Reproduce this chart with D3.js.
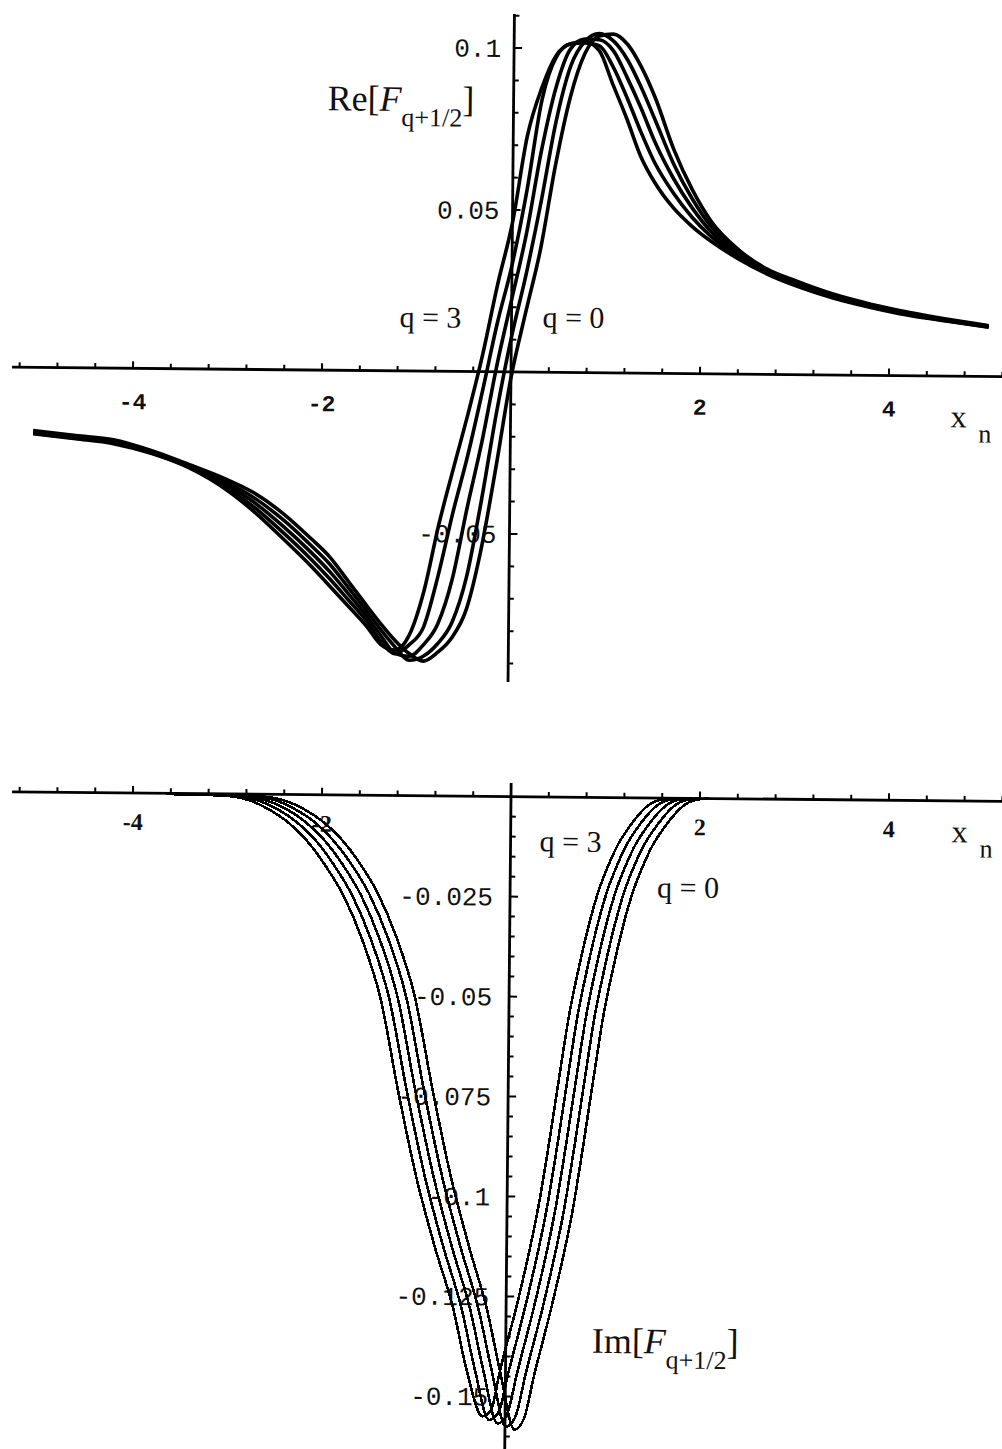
<!DOCTYPE html>
<html>
<head>
<meta charset="utf-8">
<script src="https://cdn.jsdelivr.net/npm/d3@7"></script>
<style>
  html, body { margin: 0; padding: 0; background: #fff; }
  svg { display: block; }
</style>
</head>
<body>
<svg id="chart" width="1002" height="1449"></svg>
<script>
// ---------- data ----------
// Real part: common abscissa grid, one array per curve (q = 0 ... q = 3)
const reX = [-5.05,-4.6,-4.2,-3.8,-3.4,-3.0,-2.7,-2.4,-2.1,-1.9,-1.7,-1.5,-1.35,-1.2,-1.05,-0.9,-0.75,-0.6,-0.45,-0.3,-0.15,0,0.15,0.3,0.45,0.6,0.75,0.9,1.05,1.2,1.35,1.5,1.7,1.9,2.1,2.4,2.7,3.0,3.4,3.8,4.2,4.6,5.05];
const reCurve0 = [-0.0195,-0.0209,-0.0221,-0.0253,-0.0295,-0.0340,-0.0382,-0.0443,-0.0520,-0.0576,-0.0651,-0.0727,-0.0782,-0.0832,-0.0872,-0.0895,-0.0868,-0.0822,-0.0735,-0.0550,-0.0295,-0.0018,0.0185,0.0380,0.0640,0.0850,0.0985,0.1040,0.1046,0.1015,0.0945,0.0850,0.0692,0.0568,0.0472,0.0383,0.0325,0.0290,0.0250,0.0220,0.0196,0.0176,0.0157];
const reCurve1 = [-0.0198,-0.0212,-0.0224,-0.0255,-0.0298,-0.0348,-0.0397,-0.0462,-0.0541,-0.0598,-0.0670,-0.0743,-0.0800,-0.0852,-0.0893,-0.0880,-0.0841,-0.0775,-0.0634,-0.0397,-0.0127,0.0106,0.0302,0.0524,0.0772,0.0945,0.1023,0.1047,0.1025,0.0968,0.0882,0.0782,0.0647,0.0540,0.0456,0.0376,0.0321,0.0286,0.0247,0.0217,0.0194,0.0174,0.0156];
const reCurve2 = [-0.0200,-0.0214,-0.0227,-0.0258,-0.0300,-0.0356,-0.0411,-0.0482,-0.0562,-0.0621,-0.0689,-0.0759,-0.0818,-0.0872,-0.0881,-0.0845,-0.0780,-0.0640,-0.0420,-0.0215,0.0020,0.0224,0.0428,0.0684,0.0882,0.1000,0.1030,0.1028,0.0995,0.0912,0.0818,0.0714,0.0602,0.0512,0.0440,0.0369,0.0317,0.0282,0.0244,0.0215,0.0192,0.0173,0.0155];
const reCurve3 = [-0.0203,-0.0217,-0.0230,-0.0260,-0.0303,-0.0364,-0.0426,-0.0501,-0.0583,-0.0643,-0.0708,-0.0774,-0.0835,-0.0873,-0.0845,-0.0790,-0.0630,-0.0435,-0.0260,-0.0060,0.0150,0.0330,0.0560,0.0840,0.0975,0.1015,0.1018,0.1010,0.0945,0.0850,0.0745,0.0650,0.0557,0.0483,0.0425,0.0362,0.0313,0.0279,0.0241,0.0212,0.0189,0.0171,0.0153];
const reCurve4 = [-0.0205,-0.0219,-0.0233,-0.0262,-0.0305,-0.0372,-0.0440,-0.0520,-0.0604,-0.0665,-0.0727,-0.0790,-0.0845,-0.0862,-0.0815,-0.0680,-0.0475,-0.0300,-0.0130,0.0055,0.0270,0.0460,0.0730,0.0880,0.0980,0.1015,0.1022,0.0995,0.0890,0.0785,0.0670,0.0590,0.0512,0.0455,0.0410,0.0355,0.0310,0.0275,0.0238,0.0210,0.0187,0.0170,0.0152];

// Imaginary part: [x, value] pairs per curve (q = 0 ... q = 3)
const imCurve0 = [[-3.6,-0.0002],[-2.9,-0.0003],[-2.6,-0.0006],[-2.4,-0.0015],[-2.2,-0.0035],[-2.0,-0.0065],[-1.8,-0.0108],[-1.6,-0.0168],[-1.4,-0.0245],[-1.2,-0.0353],[-1.0,-0.0500],[-0.8,-0.0735],[-0.6,-0.0950],[-0.4,-0.1125],[-0.2,-0.1285],[-0.05,-0.1445],[0.1,-0.1583],[0.2,-0.1555],[0.3,-0.1450],[0.5,-0.1255],[0.7,-0.1025],[0.8,-0.0870],[0.9,-0.0705],[1.0,-0.0545],[1.1,-0.0425],[1.2,-0.0320],[1.3,-0.0235],[1.4,-0.0172],[1.5,-0.0120],[1.6,-0.0082],[1.7,-0.0050],[1.8,-0.0024],[1.95,-0.0004],[2.1,0]];
const imCurve1 = [[-3.6,-0.0002],[-2.99,-0.0003],[-2.69,-0.0006],[-2.49,-0.0015],[-2.29,-0.0036],[-2.09,-0.0066],[-1.89,-0.0110],[-1.69,-0.0170],[-1.49,-0.0247],[-1.29,-0.0355],[-1.09,-0.0502],[-0.89,-0.0738],[-0.69,-0.0952],[-0.49,-0.1126],[-0.29,-0.1284],[-0.14,-0.1442],[0.01,-0.1576],[0.11,-0.1550],[0.21,-0.1447],[0.41,-0.1253],[0.61,-0.1022],[0.71,-0.0868],[0.81,-0.0703],[0.91,-0.0544],[1.01,-0.0424],[1.11,-0.0319],[1.21,-0.0234],[1.31,-0.0171],[1.41,-0.0119],[1.51,-0.0081],[1.61,-0.0049],[1.71,-0.0023],[1.86,-0.0004],[2.01,0]];
const imCurve2 = [[-3.6,-0.0002],[-3.08,-0.0003],[-2.78,-0.0006],[-2.58,-0.0016],[-2.38,-0.0036],[-2.18,-0.0067],[-1.98,-0.0111],[-1.78,-0.0172],[-1.58,-0.0249],[-1.38,-0.0357],[-1.18,-0.0504],[-0.98,-0.0740],[-0.78,-0.0953],[-0.58,-0.1127],[-0.38,-0.1283],[-0.23,-0.1440],[-0.08,-0.1568],[0.02,-0.1545],[0.12,-0.1444],[0.32,-0.1250],[0.52,-0.1019],[0.62,-0.0866],[0.72,-0.0701],[0.82,-0.0543],[0.92,-0.0423],[1.02,-0.0318],[1.12,-0.0233],[1.22,-0.0170],[1.32,-0.0118],[1.42,-0.0080],[1.52,-0.0048],[1.62,-0.0023],[1.77,-0.0004],[1.92,0]];
const imCurve3 = [[-3.6,-0.0002],[-3.17,-0.0003],[-2.87,-0.0006],[-2.67,-0.0016],[-2.47,-0.0037],[-2.27,-0.0068],[-2.07,-0.0112],[-1.87,-0.0174],[-1.67,-0.0251],[-1.47,-0.0359],[-1.27,-0.0506],[-1.07,-0.0742],[-0.87,-0.0955],[-0.67,-0.1128],[-0.47,-0.1282],[-0.32,-0.1438],[-0.17,-0.1559],[-0.07,-0.1540],[0.03,-0.1441],[0.23,-0.1247],[0.43,-0.1016],[0.53,-0.0864],[0.63,-0.0700],[0.73,-0.0542],[0.83,-0.0422],[0.93,-0.0317],[1.03,-0.0232],[1.13,-0.0169],[1.23,-0.0117],[1.33,-0.0079],[1.43,-0.0047],[1.53,-0.0022],[1.68,-0.0004],[1.83,0]];
const imCurve4 = [[-3.65,-0.0002],[-3.26,-0.0003],[-2.96,-0.0006],[-2.76,-0.0016],[-2.56,-0.0038],[-2.36,-0.0069],[-2.16,-0.0114],[-1.96,-0.0176],[-1.76,-0.0253],[-1.56,-0.0361],[-1.36,-0.0508],[-1.16,-0.0744],[-0.96,-0.0957],[-0.76,-0.1128],[-0.56,-0.1281],[-0.41,-0.1436],[-0.24,-0.1550],[-0.15,-0.1535],[-0.06,-0.1438],[0.14,-0.1244],[0.34,-0.1013],[0.44,-0.0862],[0.54,-0.0698],[0.64,-0.0541],[0.74,-0.0421],[0.84,-0.0316],[0.94,-0.0231],[1.04,-0.0168],[1.14,-0.0116],[1.24,-0.0078],[1.34,-0.0046],[1.44,-0.0021],[1.59,-0.0004],[1.74,0]];

// Tick labels
const xTickLabels = [-4, -2, 2, 4];
const reYTickLabels = [0.1, 0.05, -0.05];
const imYTickLabels = [-0.025, -0.05, -0.075, -0.1, -0.125, -0.15];

// ---------- layout ----------
const svg = d3.select("#chart");
svg.append("rect").attr("width", 1002).attr("height", 1449).attr("fill", "#fff");

const TILT = 0.55;               // the printed page sits slightly rotated
const MONO = "'Liberation Mono', 'DejaVu Sans Mono', monospace";
const SERIF = "'Liberation Serif', 'DejaVu Serif', serif";

const xScale = d3.scaleLinear().domain([-5, 5]).range([511 - 5 * 94.5, 511 + 5 * 94.5]);
const xAxisExtent = [-5.28, 5.4];
const xMinorTicks = d3.range(-13, 14).map(i => +(i * 0.4).toFixed(2)).filter(t => t !== 0);

const yRe = d3.scaleLinear().domain([-0.0957, 0.1105]).range([682, 14]);
const yIm = d3.scaleLinear().domain([-0.1632, 0.0034]).range([1449.3, 783]);

const reTicks = d3.range(-9, 12).map(i => +(i * 0.01).toFixed(3)).filter(t => t !== 0);
const imTicks = d3.range(-32, 0).map(i => +(i * 0.005).toFixed(4));

function drawPanel(p) {
  const y = p.y;
  const y0 = y(0), xz = xScale(0);
  const g = svg.append("g").attr("transform", `rotate(${TILT} ${p.ox} ${p.oy})`);

  // tick labels (drawn first so the curves pass over them)
  g.selectAll(null).data(xTickLabels).join("text")
    .attr("x", d => xScale(d))
    .attr("y", y0 + p.xLabelDy)
    .attr("text-anchor", "middle")
    .attr("font-family", p.xLabelFont)
    .attr("font-weight", "bold")
    .attr("font-size", p.xLabelSize)
    .attr("fill", "#111")
    .text(d => String(d));

  g.selectAll(null).data(p.yLabels).join("text")
    .attr("x", xz - p.yLabelGap)
    .attr("y", d => y(d))
    .attr("dy", "0.35em")
    .attr("text-anchor", "end")
    .attr("font-family", MONO)
    .attr("font-size", 26)
    .attr("fill", "#111")
    .text(d => String(d));

  // axes
  g.append("line")
    .attr("x1", xScale(xAxisExtent[0])).attr("x2", xScale(xAxisExtent[1]))
    .attr("y1", y0).attr("y2", y0)
    .attr("stroke", "#000").attr("stroke-width", 2.8);
  g.append("line")
    .attr("x1", xz).attr("x2", xz)
    .attr("y1", y(p.yExtent[1])).attr("y2", y(p.yExtent[0]))
    .attr("stroke", "#000").attr("stroke-width", 2.8);

  // x ticks point up, longer at the labelled values
  g.selectAll(null).data(xMinorTicks).join("line")
    .attr("x1", d => xScale(d)).attr("x2", d => xScale(d))
    .attr("y1", y0).attr("y2", d => y0 - (Math.abs(d % 2) < 1e-6 ? 7 : 5))
    .attr("stroke", "#000").attr("stroke-width", 2);

  // y ticks point right
  g.selectAll(null).data(p.yTicks).join("line")
    .attr("x1", xz).attr("x2", d => xz + (p.isMajor(d) ? 8 : 5))
    .attr("y1", d => y(d)).attr("y2", d => y(d))
    .attr("stroke", "#000").attr("stroke-width", 2);

  // curves
  const line = d3.line()
    .x(d => xScale(d[0]))
    .y(d => y(d[1]))
    .curve(d3.curveMonotoneX);
  p.series.forEach(s => {
    g.append("path")
      .datum(s)
      .attr("d", line)
      .attr("fill", "none")
      .attr("stroke", "#000")
      .attr("stroke-width", p.curveWidth)
      .attr("stroke-linejoin", "round")
      .attr("shape-rendering", p.crisp ? "crispEdges" : "auto");
  });

  // axis and curve labels
  const lab = g.append("g").attr("fill", "#111").attr("font-family", SERIF);
  const t = lab.append("text").attr("x", p.title.x).attr("y", p.title.y).attr("font-size", 36);
  t.append("tspan").text(p.title.head + "[");
  t.append("tspan").attr("font-style", "italic").text("F");
  t.append("tspan").attr("font-size", 26).attr("dy", 15).text("q+1/2");
  t.append("tspan").attr("dy", -15).text("]");

  lab.append("text").attr("x", p.xn.x).attr("y", p.xn.y).attr("font-size", 32).text("x");
  lab.append("text").attr("x", p.xn.x + 28).attr("y", p.xn.y + 15).attr("font-size", 26).text("n");

  p.qLabels.forEach(q => {
    lab.append("text").attr("x", q.x).attr("y", q.y).attr("font-size", 30).text(q.text);
  });
}

drawPanel({
  ox: 511, oy: 372, y: yRe,
  yExtent: [-0.0957, 0.1105],
  yTicks: reTicks,
  isMajor: d => Math.abs(Math.round(d * 100) % 5) === 0,
  yLabels: reYTickLabels, yLabelGap: 13,
  xLabelDy: 41, xLabelFont: MONO, xLabelSize: 23,
  series: [reCurve0, reCurve1, reCurve2, reCurve3, reCurve4].map(c => reX.map((x, i) => [x, c[i]])),
  curveWidth: 3.6, crisp: false,
  title: { x: 325, y: 112, head: "Re" },
  xn: { x: 951, y: 423 },
  qLabels: [{ x: 399, y: 328, text: "q = 3" }, { x: 542, y: 327, text: "q = 0" }]
});

drawPanel({
  ox: 511, oy: 797, y: yIm,
  yExtent: [-0.1632, 0.0034],
  yTicks: imTicks,
  isMajor: d => Math.abs(Math.round(d * 1000) % 25) === 0,
  yLabels: imYTickLabels, yLabelGap: 17,
  xLabelDy: 37, xLabelFont: SERIF, xLabelSize: 24,
  series: [imCurve0, imCurve1, imCurve2, imCurve3, imCurve4],
  curveWidth: 2.6, crisp: true,
  title: { x: 597, y: 1352, head: "Im" },
  xn: { x: 952, y: 838 },
  qLabels: [{ x: 540, y: 851, text: "q = 3" }, { x: 658, y: 896, text: "q = 0" }]
});
</script>
</body>
</html>
